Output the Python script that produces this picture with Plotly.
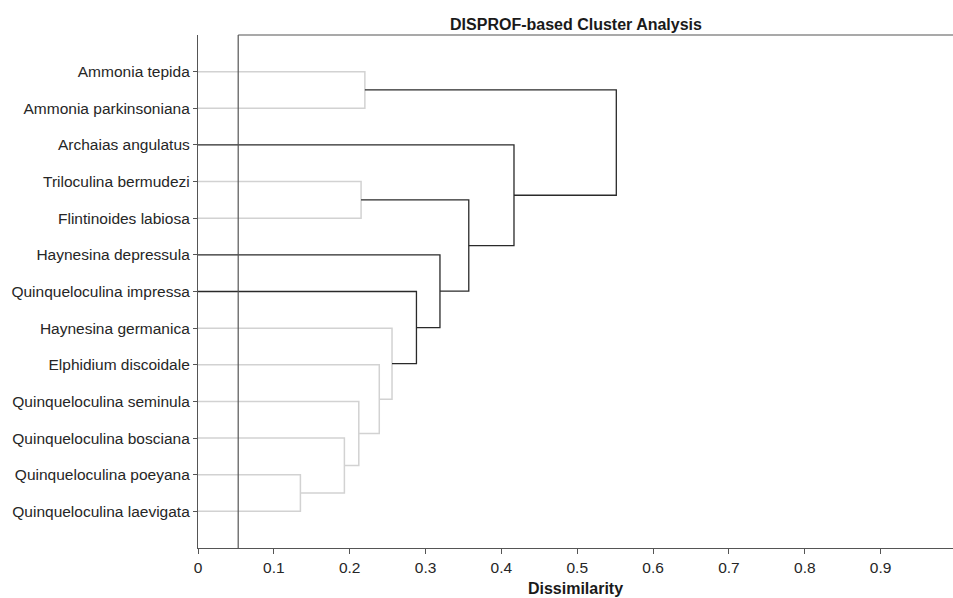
import plotly.graph_objects as go

# Leaves, top to bottom
leaves = ["Ammonia tepida", "Ammonia parkinsoniana", "Archaias angulatus",
          "Triloculina bermudezi", "Flintinoides labiosa", "Haynesina depressula",
          "Quinqueloculina impressa", "Haynesina germanica", "Elphidium discoidale",
          "Quinqueloculina seminula", "Quinqueloculina bosciana",
          "Quinqueloculina poeyana", "Quinqueloculina laevigata"]

# Merges: children are leaf names or "m<index>" of an earlier merge
merge_left = ["Quinqueloculina poeyana", "Quinqueloculina bosciana", "Quinqueloculina seminula",
              "Elphidium discoidale", "Haynesina germanica", "Quinqueloculina impressa",
              "Haynesina depressula", "Triloculina bermudezi", "m7", "Archaias angulatus",
              "Ammonia tepida", "m10"]
merge_right = ["Quinqueloculina laevigata", "m0", "m1", "m2", "m3", "m4", "m5",
               "Flintinoides labiosa", "m6", "m8", "Ammonia parkinsoniana", "m9"]
merge_height = [0.135, 0.193, 0.212, 0.239, 0.2558, 0.288, 0.319, 0.215, 0.357,
                0.4166, 0.220, 0.5515]
merge_significant = [False, False, False, False, False, True, True, False, True,
                     True, False, True]

threshold = 0.053
x_ticks = [0, 0.1, 0.2, 0.3, 0.4, 0.5, 0.6, 0.7, 0.8, 0.9]
x_tick_text = ["0", "0.1", "0.2", "0.3", "0.4", "0.5", "0.6", "0.7", "0.8", "0.9"]

n = len(leaves)
pos = {name: n - i for i, name in enumerate(leaves)}   # y position
hgt = {name: 0.0 for name in leaves}

seg = {True: ([], []), False: ([], [])}
for i, (a, b, h, s) in enumerate(zip(merge_left, merge_right, merge_height, merge_significant)):
    ya, yb = pos[a], pos[b]
    xa, xb = hgt[a], hgt[b]
    xs, ys = seg[s]
    xs += [xa, h, h, xb, None]
    ys += [ya, ya, yb, yb, None]
    pos["m%d" % i] = (ya + yb) / 2
    hgt["m%d" % i] = h

fig = go.Figure()
fig.add_trace(go.Scatter(x=seg[False][0], y=seg[False][1], mode="lines",
                         line=dict(color="#d2d2d2", width=1.5), hoverinfo="skip",
                         showlegend=False, cliponaxis=False))
fig.add_trace(go.Scatter(x=seg[True][0], y=seg[True][1], mode="lines",
                         line=dict(color="#2a2a2a", width=1.3), hoverinfo="skip",
                         showlegend=False, cliponaxis=False))

# threshold line and top border
fig.add_shape(type="line", xref="x", yref="paper", x0=threshold, x1=threshold, y0=0, y1=1,
              line=dict(color="#555555", width=1.2))
fig.add_shape(type="line", xref="x", yref="paper", x0=threshold, x1=1.2, y0=1, y1=1,
              line=dict(color="#555555", width=1.2))

font = "Liberation Sans, Arial, Helvetica, sans-serif"
fig.update_layout(
    width=953, height=598,
    margin=dict(l=198, r=0, t=35, b=50),
    plot_bgcolor="white", paper_bgcolor="white",
    font=dict(family=font, size=15.5, color="#262626"),
    title=dict(text="<b>DISPROF-based Cluster Analysis</b>", x=576 / 953, xanchor="center",
               y=1 - 24 / 598, yanchor="middle", font=dict(size=16, color="#1a1a1a")),
    xaxis=dict(range=[0, (953 - 198) / 758.5], tickvals=x_ticks, ticktext=x_tick_text,
               showgrid=False, zeroline=False, showline=True, linecolor="#555555",
               linewidth=1.2, ticks="outside", ticklen=5, tickcolor="#555555",
               title=dict(text="<b>Dissimilarity</b>", standoff=8,
                          font=dict(size=16, color="#1a1a1a"))),
    yaxis=dict(range=[0, 14], tickvals=[pos[l] for l in leaves], ticktext=leaves,
               showgrid=False, zeroline=False, showline=True, linecolor="#555555",
               linewidth=1.2, ticks="outside", ticklen=4, tickcolor="#555555"),
)
fig.write_html("out.html")
